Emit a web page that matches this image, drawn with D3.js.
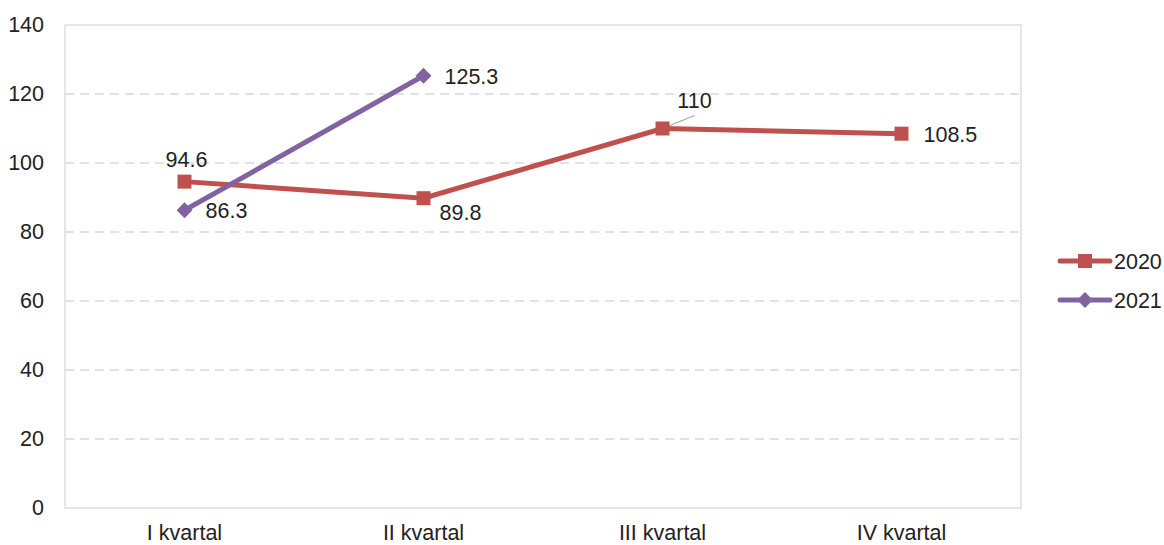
<!DOCTYPE html>
<html><head><meta charset="utf-8">
<script src="https://cdn.jsdelivr.net/npm/d3@7"></script>
<style>body{margin:0;background:#fff}svg{display:block}text{font-family:"Liberation Sans",Arial,sans-serif;fill:#222}</style>
</head><body><svg id="c" width="1164" height="545"></svg>
<script>
const categories = ["I kvartal","II kvartal","III kvartal","IV kvartal"];
const series2020 = [94.6, 89.8, 110, 108.5];
const series2021 = [86.3, 125.3, null, null];
const yTicks = [0,20,40,60,80,100,120,140];
const seriesNames = ["2020","2021"];
const colors = ["#C0504D","#8064A2"];
// label offsets [dx, dy(baseline)] relative to point
const labelOff2020 = [[2,-15,"middle"],[16,22,"start"],[32,-21,"middle"],[22,8,"start"]];
const labelOff2021 = [[21,8,"start"],[21,8,"start"]];
const FS = 21.5;

const svg = d3.select("#c");
const L=65, R=1021, T=25, B=508;
const x = d3.scaleBand().domain(categories).range([L,R]);
const y = d3.scaleLinear().domain([0,140]).range([B,T]);

svg.append("g").selectAll("line").data(yTicks.filter(d=>d>0&&d<140)).join("line")
  .attr("x1",L).attr("x2",R).attr("y1",d=>y(d)).attr("y2",d=>y(d))
  .attr("stroke","#d9d9d9").attr("stroke-width",1.3).attr("stroke-dasharray","9,6");
svg.append("rect").attr("x",L).attr("y",T).attr("width",R-L).attr("height",B-T)
  .attr("fill","none").attr("stroke","#d9d9d9").attr("stroke-width",1.3);

const ya = svg.append("g").attr("transform",`translate(${L},0)`).call(d3.axisLeft(y).tickValues(yTicks).tickSize(0).tickPadding(21));
ya.select(".domain").remove();
ya.selectAll("text").attr("font-size",FS).attr("fill","#222");
const xa = svg.append("g").attr("transform",`translate(0,${B})`).call(d3.axisBottom(x).tickSize(0).tickPadding(16.5));
xa.select(".domain").remove();
xa.selectAll("text").attr("font-size",FS).attr("fill","#222");

const cx = c => x(c)+x.bandwidth()/2;
const data = [series2020, series2021];
const line = d3.line().defined(d=>d.v!=null).x(d=>cx(d.c)).y(d=>y(d.v));

svg.append("line").attr("x1",cx(categories[2])).attr("y1",y(110)).attr("x2",cx(categories[2])+32).attr("y2",y(110)-13)
  .attr("stroke","#a6a6a6").attr("stroke-width",1.2);

function marker(g,i){
  if(i===0) g.append("rect").attr("x",-7).attr("y",-7).attr("width",14).attr("height",14).attr("fill",colors[i]);
  else g.append("rect").attr("x",-5.6).attr("y",-5.6).attr("width",11.2).attr("height",11.2).attr("transform","rotate(45)").attr("fill",colors[i]);
}

data.forEach((s,i)=>{
  const pts = s.map((v,j)=>({c:categories[j],v}));
  svg.append("path").datum(pts).attr("d",line).attr("fill","none").attr("stroke",colors[i]).attr("stroke-width",5).attr("stroke-linecap","round");
  svg.append("g").selectAll("g").data(pts.filter(d=>d.v!=null)).join("g")
    .attr("transform",d=>`translate(${cx(d.c)},${y(d.v)})`).each(function(){marker(d3.select(this),i);});
  const offs = i===0?labelOff2020:labelOff2021;
  svg.append("g").selectAll("text").data(pts.filter(d=>d.v!=null)).join("text")
    .attr("x",(d,j)=>cx(d.c)+offs[j][0]).attr("y",(d,j)=>y(d.v)+offs[j][1])
    .attr("text-anchor",(d,j)=>offs[j][2])
    .attr("font-size",FS).text(d=>String(d.v));
});

const lg = svg.append("g");
seriesNames.forEach((n,i)=>{
  const ly = 261 + i*39;
  lg.append("line").attr("x1",1060).attr("x2",1110).attr("y1",ly).attr("y2",ly).attr("stroke",colors[i]).attr("stroke-width",5).attr("stroke-linecap","round");
  marker(lg.append("g").attr("transform",`translate(1085,${ly})`),i);
  lg.append("text").attr("x",1114).attr("y",ly+7.5).attr("font-size",FS).text(n);
});
</script></body></html>
